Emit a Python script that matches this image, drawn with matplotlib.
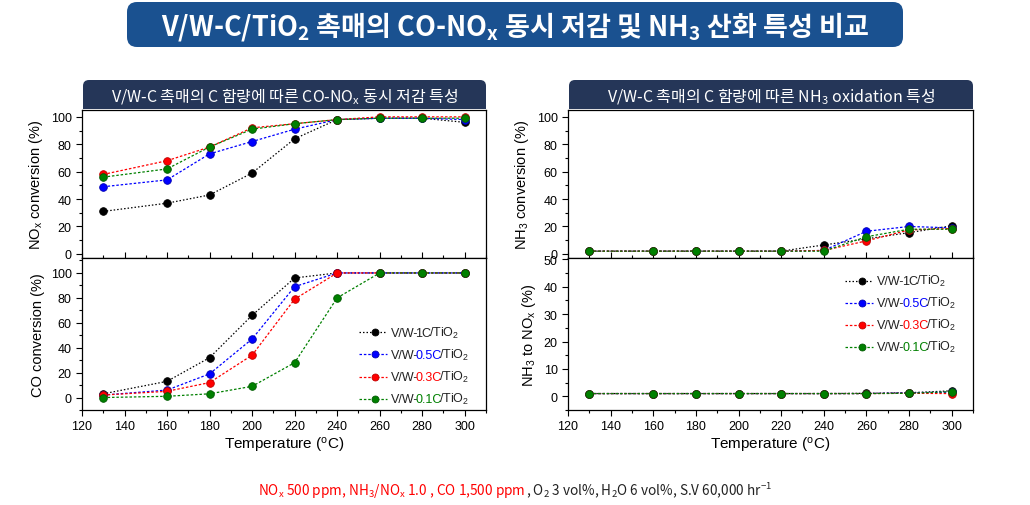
"""V/W-C/TiO2 catalyst: CO-NOx removal and NH3 oxidation comparison."""

import matplotlib

matplotlib.use("Agg")
import matplotlib.pyplot as plt
from matplotlib.lines import Line2D
from matplotlib.offsetbox import AnchoredOffsetbox, DrawingArea, HPacker, TextArea, VPacker
from matplotlib.patches import FancyBboxPatch, Rectangle
from matplotlib.ticker import MultipleLocator

plt.rcParams["font.family"] = ["Liberation Sans", "Noto Sans CJK KR"]
plt.rcParams["mathtext.fontset"] = "custom"
plt.rcParams["mathtext.rm"] = "Liberation Sans"
plt.rcParams["mathtext.it"] = "Liberation Sans:italic"
plt.rcParams["mathtext.bf"] = "Noto Sans CJK KR:bold"
plt.rcParams["mathtext.sf"] = "Noto Sans CJK KR"

# ---- data -------------------------------------------------------------
temps = [130, 160, 180, 200, 220, 240, 260, 280, 300]
loadings = ["1C", "0.5C", "0.3C", "0.1C"]

nox_1c = [31, 37, 43, 59, 84, 98, 99, 99, 96]
nox_05c = [49, 54, 73, 82, 91, 98, 99, 99, 98]
nox_03c = [58, 68, 78, 92, 95, 98, 100, 100, 100]
nox_01c = [56, 62, 78, 91, 95, 98, 99, 99, 99]

co_1c = [3, 13, 32, 66, 96, 100, 100, 100, 100]
co_05c = [2, 6, 19, 47, 89, 100, 100, 100, 100]
co_03c = [2, 5, 12, 34, 79, 100, 100, 100, 100]
co_01c = [0, 1, 3, 9, 28, 80, 100, 100, 100]

nh3_1c = [2, 2, 2, 2, 2, 6.5, 11, 15.5, 20.5]
nh3_05c = [2, 2, 2, 2, 2, 2.5, 16.5, 20, 19]
nh3_03c = [2, 2, 2, 2, 2, 2.5, 9.5, 17.5, 18.5]
nh3_01c = [2, 2, 2, 2, 2, 2, 12.5, 18, 18]

nh3nox_1c = [1, 1, 1, 1, 1, 1, 1.1, 1.3, 2.0]
nh3nox_05c = [1, 1, 1, 1, 1, 1, 1, 1.3, 1.5]
nh3nox_03c = [1, 1, 1, 1, 1, 1, 1, 1.1, 1.0]
nh3nox_01c = [1, 1, 1, 1, 1, 1, 1, 1.1, 1.7]

# ---- styles -----------------------------------------------------------
colors = ["#000000", "#0000ff", "#ff0000", "#008000"]
edges = ["#000000", "#0000b0", "#c00000", "#005a00"]
dashes = [(0, (1.2, 1.6)), (0, (2.0, 1.5)), (0, (2.0, 1.5)), (0, (2.0, 1.5))]
W, H = 1030, 506

fig = plt.figure(figsize=(W / 100, H / 100), dpi=100)

# pixel-space overlay for boxes/banners
bg = fig.add_axes([0, 0, 1, 1])
bg.set_xlim(0, W)
bg.set_ylim(H, 0)
bg.axis("off")
bg.patch.set_visible(False)


def px_axes(x0, y0, x1, y1):
    return fig.add_axes([x0 / W, 1 - y1 / H, (x1 - x0) / W, (y1 - y0) / H])


def header(x0, y0, x1, y1, text):
    bg.add_patch(FancyBboxPatch((x0, y0), x1 - x0, y1 - y0,
                                boxstyle="round,pad=0,rounding_size=6",
                                fc="#253658", ec="none"))
    bg.add_patch(Rectangle((x0, y0 + 10), x1 - x0, y1 - y0 - 10, fc="#253658", ec="none"))
    bg.text((x0 + x1) / 2, (y0 + y1) / 2 + 1, text, color="white", fontsize=11.5,
            ha="center", va="center", family=["Noto Sans CJK KR"])


def style(ax, ymaj, ymin, ylim, bottom_labels):
    ax.set_xlim(120, 310)
    ax.set_ylim(*ylim)
    ax.xaxis.set_major_locator(MultipleLocator(20))
    ax.xaxis.set_minor_locator(MultipleLocator(10))
    ax.yaxis.set_major_locator(MultipleLocator(ymaj))
    ax.yaxis.set_minor_locator(MultipleLocator(ymin))
    ax.tick_params(axis="y", which="major", direction="out", length=4, width=0.8, labelsize=9)
    ax.tick_params(axis="y", which="minor", direction="out", length=2.5, width=0.8)
    xdir = "out" if bottom_labels else "in"
    ax.tick_params(axis="x", which="major", direction=xdir, length=4, width=0.8,
                   labelsize=9, labelbottom=bottom_labels)
    ax.tick_params(axis="x", which="minor", direction=xdir, length=2.5, width=0.8)
    for s in ax.spines.values():
        s.set_linewidth(0.9)
    if bottom_labels:
        ax.set_xlabel("Temperature ($^\\mathrm{o}$C)", fontsize=11, labelpad=2)


def plot_series(ax, series):
    for ys, c, e, ls in zip(series, colors, edges, dashes):
        ax.plot(temps, ys, color=c, ls=ls, lw=0.9, marker="o", ms=5.5, mfc=c, mec=e, mew=0.6)


def add_legend(ax, x, y):
    rows = []
    for lab, c, e, ls in zip(loadings, colors, edges, dashes):
        da = DrawingArea(20, 8, 0, 0)
        da.add_artist(Line2D([0, 20], [4, 4], color=c, ls=ls, lw=0.9))
        da.add_artist(Line2D([12], [4], color=c, marker="o", ms=5, mec=e, mew=0.6))
        tcol = "#222222" if lab == "1C" else c
        texts = HPacker(children=[
            TextArea("V/W-", textprops=dict(color="#222222", fontsize=9)),
            TextArea(lab, textprops=dict(color=tcol, fontsize=9)),
            TextArea("/TiO$_2$", textprops=dict(color="#222222", fontsize=9)),
        ], sep=-1.8, pad=0, align="baseline")
        rows.append(HPacker(children=[da, texts], sep=3, pad=0, align="center"))
    box = VPacker(children=rows, sep=5, pad=0, align="left")
    anc = AnchoredOffsetbox(loc="upper left", child=box, pad=0, borderpad=0, frameon=False,
                            bbox_to_anchor=(x, y), bbox_transform=ax.transAxes)
    ax.add_artist(anc)


# ---- left: CO-NOx removal --------------------------------------------
ax1 = px_axes(82, 111, 486, 259)
ax2 = px_axes(82, 259, 486, 411)
style(ax1, 20, 10, (-3, 105), False)
style(ax2, 20, 10, (-10, 112), True)
plot_series(ax1, [nox_1c, nox_05c, nox_03c, nox_01c])
plot_series(ax2, [co_1c, co_05c, co_03c, co_01c])
ax1.set_ylabel("NO$_\\mathrm{x}$ conversion (%)", fontsize=10.5, labelpad=4)
ax2.set_ylabel("CO conversion (%)", fontsize=10.5, labelpad=4)
add_legend(ax2, 0.685, 0.56)

# ---- right: NH3 oxidation --------------------------------------------
ax3 = px_axes(568, 111, 973, 259)
ax4 = px_axes(568, 259, 973, 411)
style(ax3, 20, 10, (-3, 105), False)
style(ax4, 10, 5, (-5, 50.5), True)
plot_series(ax3, [nh3_1c, nh3_05c, nh3_03c, nh3_01c])
plot_series(ax4, [nh3nox_1c, nh3nox_05c, nh3nox_03c, nh3nox_01c])
ax3.set_ylabel("NH$_3$ conversion (%)", fontsize=10.5, labelpad=4)
ax4.set_ylabel("NH$_3$ to NO$_\\mathrm{x}$ (%)", fontsize=10.5, labelpad=4)
add_legend(ax4, 0.685, 0.90)

# ---- banners ----------------------------------------------------------
bg.add_patch(FancyBboxPatch((127, 3), 776, 45, boxstyle="round,pad=0,rounding_size=10",
                            fc="#1a5190", ec="none"))
bg.text(515, 26, "V/W-C/TiO$\\mathbf{_2}$ 촉매의 CO-NO$\\mathbf{_x}$ 동시 저감 및 NH$\\mathbf{_3}$ 산화 특성 비교",
        color="white", fontsize=19.5, fontweight="bold", ha="center", va="center",
        family=["Noto Sans CJK KR"])
header(83, 81, 486, 110, "V/W-C 촉매의 C 함량에 따른 CO-NO$\\mathsf{_x}$ 동시 저감 특성")
header(569, 81, 973, 110, "V/W-C 촉매의 C 함량에 따른 NH$\\mathsf{_3}$ oxidation 특성")

# ---- footnote ---------------------------------------------------------
fp = dict(fontsize=9.8, family=["Noto Sans CJK KR"])
note = HPacker(children=[
    TextArea("NO$\\mathsf{_x}$ 500 ppm, NH$\\mathsf{_3}$/NO$\\mathsf{_x}$ 1.0 , CO 1,500 ppm",
             textprops=dict(color="#ff0000", **fp)),
    TextArea(", O$\\mathsf{_2}$ 3 vol%, H$\\mathsf{_2}$O 6 vol%, S.V 60,000 hr$\\mathsf{^{-1}}$",
             textprops=dict(color="#222222", **fp)),
], sep=0, pad=0, align="baseline")
fig.add_artist(AnchoredOffsetbox(loc="center", child=note, pad=0, borderpad=0, frameon=False,
                                 bbox_to_anchor=(515 / W, 1 - 490 / H),
                                 bbox_transform=fig.transFigure))

fig.savefig("out.png", dpi=100)
